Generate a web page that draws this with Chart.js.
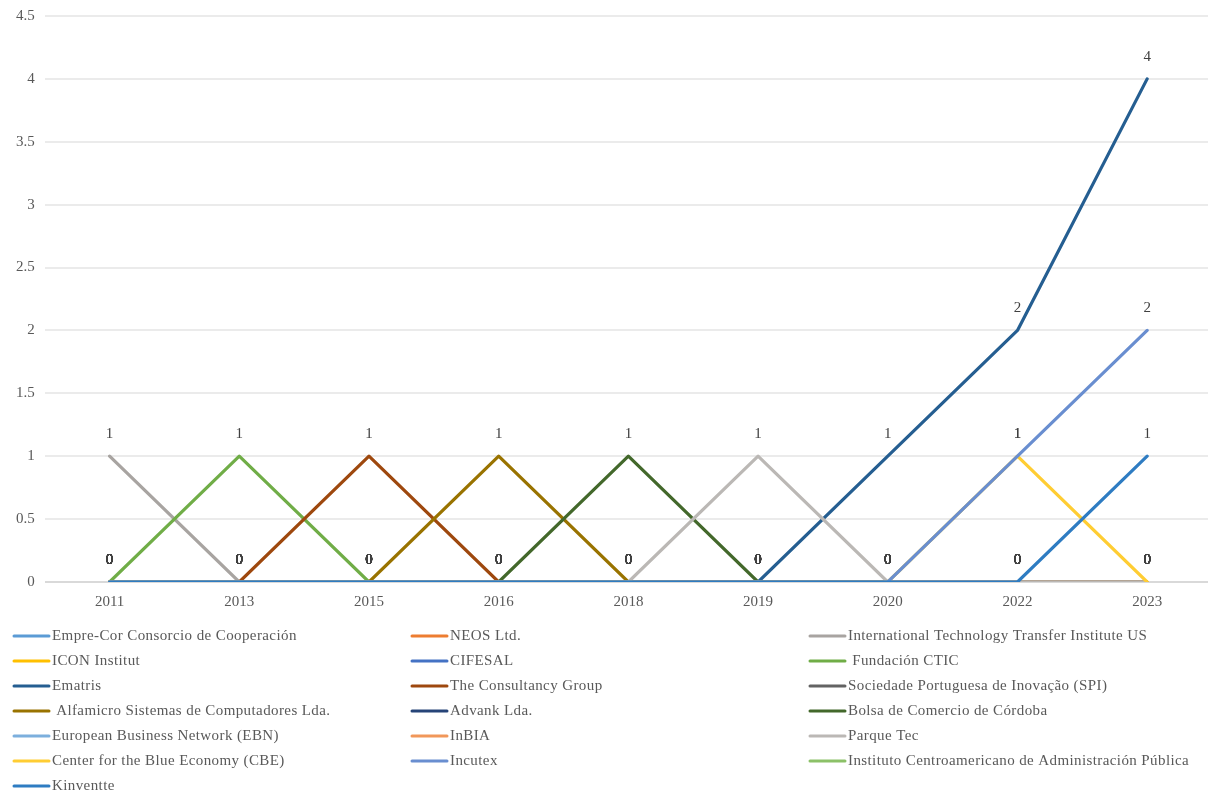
<!DOCTYPE html>
<html>
<head>
<meta charset="utf-8">
<script src="https://cdn.jsdelivr.net/npm/chart.js@4/dist/chart.umd.min.js"></script>
<style>
html,body{margin:0;padding:0;background:#fff;overflow:hidden;}
#wrap{width:1212px;height:797px;margin-top:-3px;}
</style>
</head>
<body>
<div id="wrap"><canvas id="c" width="1212" height="797"></canvas></div>
<script>
const categories = ['2011','2013','2015','2016','2018','2019','2020','2022','2023'];
const yTicks = [0,0.5,1,1.5,2,2.5,3,3.5,4,4.5];

const seriesNames = [
  'Empre-Cor Consorcio de Cooperación',
  'NEOS Ltd.',
  'International Technology Transfer Institute US',
  'ICON Institut',
  'CIFESAL',
  ' Fundación CTIC',
  'Ematris',
  'The Consultancy Group',
  'Sociedade Portuguesa de Inovação (SPI)',
  ' Alfamicro Sistemas de Computadores Lda.',
  'Advank Lda.',
  'Bolsa de Comercio de Córdoba',
  'European Business Network (EBN)',
  'InBIA',
  'Parque Tec',
  'Center for the Blue Economy (CBE)',
  'Incutex',
  'Instituto Centroamericano de Administración Pública',
  'Kinventte'
];

const empreCor   = [0,0,0,0,0,0,0,0,0];
const neos       = [0,0,0,0,0,0,0,0,0];
const itti       = [1,0,0,0,0,0,0,0,0];
const icon       = [0,0,0,0,0,0,0,0,0];
const cifesal    = [0,0,0,0,0,0,0,0,0];
const ctic       = [0,1,0,0,0,0,0,0,0];
const ematris    = [0,0,0,0,0,0,1,2,4];
const consultancy= [0,0,1,0,0,0,0,0,0];
const spi        = [0,0,0,0,0,0,0,0,0];
const alfamicro  = [0,0,0,1,0,0,0,0,0];
const advank     = [0,0,0,0,0,0,0,0,0];
const bolsa      = [0,0,0,0,1,0,0,0,0];
const ebn        = [0,0,0,0,0,0,0,0,0];
const inbia      = [0,0,0,0,0,0,0,0,0];
const parqueTec  = [0,0,0,0,0,1,0,0,0];
const cbe        = [0,0,0,0,0,0,0,1,0];
const incutex    = [0,0,0,0,0,0,0,1,2];
const icap       = [null,null,null,null,null,null,null,null,null];
const kinventte  = [0,0,0,0,0,0,0,0,1];

const seriesValues = [empreCor,neos,itti,icon,cifesal,ctic,ematris,consultancy,spi,alfamicro,advank,bolsa,ebn,inbia,parqueTec,cbe,incutex,icap,kinventte];

const seriesColors = ['#5B9BD5','#ED7D31','#A8A4A1','#FFC000','#4472C4','#70AD47','#255E91','#9E480E','#636363','#997300','#264478','#43682B','#7CAFDD','#F1975A','#BBB8B5','#FFCD33','#698ED0','#8CC168','#2E7CC2'];

const FONT = "'Liberation Serif', 'Times New Roman', serif";

const datasets = seriesNames.map((name,i)=>({
  label: name,
  data: seriesValues[i],
  borderColor: seriesColors[i],
  backgroundColor: seriesColors[i],
  borderWidth: 3.2,
  pointRadius: 0,
  pointHoverRadius: 0,
  tension: 0,
  fill: false,
  spanGaps: false,
  borderCapStyle: 'round',
  borderJoinStyle: 'round',
  order: seriesNames.length - i
}));

const valueLabels = {
  id: 'valueLabels',
  afterDatasetsDraw(chart) {
    const ctx = chart.ctx;
    ctx.save();
    ctx.font = '15px ' + FONT;
    ctx.fillStyle = '#404040';
    ctx.textAlign = 'center';
    ctx.textBaseline = 'middle';
    chart.data.datasets.forEach((ds, di) => {
      const meta = chart.getDatasetMeta(di);
      meta.data.forEach((pt, j) => {
        const v = ds.data[j];
        if (v === null || v === undefined) return;
        ctx.fillText(String(v), pt.x, pt.y - 22);
      });
    });
    ctx.restore();
  }
};

const gridLegend = {
  id: 'gridLegend',
  afterDraw(chart, args, opts) {
    const ctx = chart.ctx;
    ctx.save();
    ctx.font = opts.fontSize + 'px ' + FONT;
    if ('letterSpacing' in ctx) ctx.letterSpacing = opts.spacing + 'px';
    ctx.textBaseline = 'middle';
    ctx.textAlign = 'left';
    chart.data.datasets.forEach((ds, i) => {
      const col = i % opts.cols.length;
      const row = Math.floor(i / opts.cols.length);
      const x = opts.cols[col];
      const y = opts.top + row * opts.rowH;
      ctx.strokeStyle = ds.borderColor;
      ctx.lineWidth = 3;
      ctx.lineCap = 'round';
      ctx.beginPath();
      ctx.moveTo(x, y);
      ctx.lineTo(x + opts.lineLen, y);
      ctx.stroke();
      ctx.fillStyle = '#595959';
      ctx.fillText(ds.label, x + opts.lineLen + 3, y);
    });
    ctx.restore();
  }
};

new Chart(document.getElementById('c'), {
  type: 'line',
  data: { labels: categories, datasets },
  plugins: [valueLabels, gridLegend],
  options: {
    responsive: false,
    animation: false,
    events: [],
    layout: { padding: { top: 3, left: 6, right: 0, bottom: 180 } },
    plugins: {
      legend: { display: false },
      tooltip: { enabled: false },
      gridLegend: { cols: [14, 412, 810], top: 639, rowH: 25, lineLen: 35, fontSize: 15, spacing: 0.4 }
    },
    scales: {
      x: {
        offset: true,
        grid: { display: false },
        border: { display: false },
        ticks: { color: '#595959', font: { family: FONT, size: 15 }, padding: 3, maxRotation: 0 }
      },
      y: {
        min: 0, max: 4.5,
        afterBuildTicks(axis) { axis.ticks = yTicks.map(v => ({ value: v })); },
        grid: {
          drawTicks: false,
          lineWidth: 2,
          color: (c) => c.tick && c.tick.value === 0 ? '#D9D9D9' : '#EBEBEB'
        },
        border: { display: false },
        ticks: { color: '#595959', font: { family: FONT, size: 15 }, padding: 10, callback: (v) => String(v) }
      }
    }
  }
});
</script>
</body>
</html>
